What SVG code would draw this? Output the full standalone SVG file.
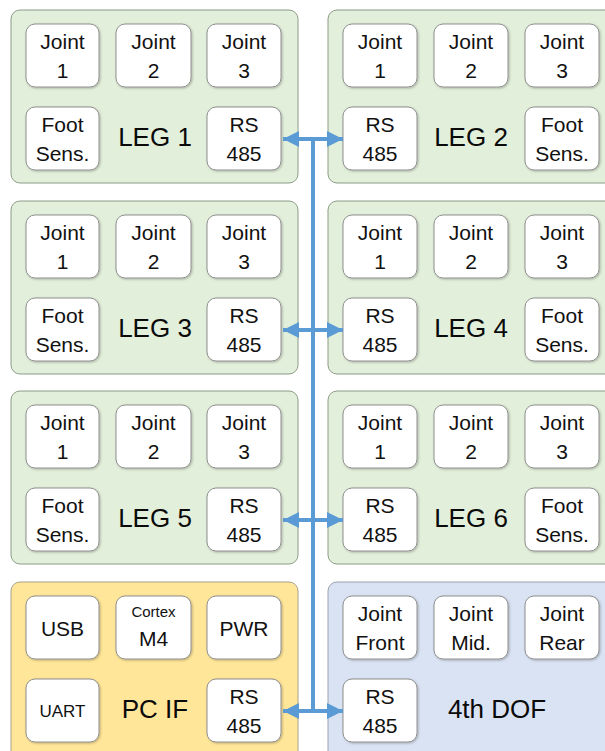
<svg xmlns="http://www.w3.org/2000/svg" width="605" height="751" viewBox="0 0 605 751">
<defs>
<style>
.pg{fill:#E2EFDA;stroke:#8C9C86;stroke-width:1}
.py{fill:#FFE699;stroke:#A8A08A;stroke-width:1}
.pb{fill:#DAE3F3;stroke:#9AA0AE;stroke-width:1}
.bx{fill:#FFFFFF;stroke:#8F8F8F;stroke-width:1;filter:url(#sh)}
.t{font-family:"Liberation Sans",Arial,sans-serif;font-size:21px;fill:#111111;text-anchor:middle}
.s{font-size:15px}
.u{font-size:17px}
.L{font-family:"Liberation Sans",Arial,sans-serif;font-size:26px;fill:#0A0A0A;text-anchor:middle}
.c{stroke:#5B9BD5;stroke-width:4;fill:none}
</style>
<filter id="sh" x="-10%" y="-10%" width="130%" height="130%">
<feDropShadow dx="1" dy="1" stdDeviation="1.2" flood-color="#000" flood-opacity="0.25"/>
</filter>
<marker id="ah" viewBox="0 0 10 10" refX="10" refY="5" markerWidth="4.2" markerHeight="4" orient="auto-start-reverse" markerUnits="strokeWidth">
<path d="M0,0 L10,5 L0,10 Z" fill="#5B9BD5"/>
</marker>
</defs>

<!-- LEG 1 -->
<g id="leg1">
<rect class="pg" x="11" y="10" width="287" height="173" rx="9"/>
<rect class="bx" x="26" y="24" width="73" height="63" rx="9"/><text class="t" x="62.5" y="48.5">Joint</text><text class="t" x="62.5" y="77.5">1</text>
<rect class="bx" x="116" y="24" width="75" height="63" rx="9"/><text class="t" x="153.5" y="48.5">Joint</text><text class="t" x="153.5" y="77.5">2</text>
<rect class="bx" x="207" y="24" width="74" height="63" rx="9"/><text class="t" x="244" y="48.5">Joint</text><text class="t" x="244" y="77.5">3</text>
<rect class="bx" x="26" y="107" width="73" height="63" rx="9"/><text class="t" x="62.5" y="131.5">Foot</text><text class="t" x="62.5" y="160.5">Sens.</text>
<text class="L" x="155" y="146">LEG 1</text>
<rect class="bx" x="207" y="107" width="74" height="63" rx="9"/><text class="t" x="244" y="131.5">RS</text><text class="t" x="244" y="160.5">485</text>
</g>

<!-- LEG 2 -->
<g id="leg2">
<rect class="pg" x="328" y="10" width="290" height="173" rx="9"/>
<rect class="bx" x="343" y="24" width="74" height="63" rx="9"/><text class="t" x="380" y="48.5">Joint</text><text class="t" x="380" y="77.5">1</text>
<rect class="bx" x="434" y="24" width="74" height="63" rx="9"/><text class="t" x="471" y="48.5">Joint</text><text class="t" x="471" y="77.5">2</text>
<rect class="bx" x="525" y="24" width="74" height="63" rx="9"/><text class="t" x="562" y="48.5">Joint</text><text class="t" x="562" y="77.5">3</text>
<rect class="bx" x="343" y="107" width="74" height="63" rx="9"/><text class="t" x="380" y="131.5">RS</text><text class="t" x="380" y="160.5">485</text>
<text class="L" x="471" y="146">LEG 2</text>
<rect class="bx" x="525" y="107" width="74" height="63" rx="9"/><text class="t" x="562" y="131.5">Foot</text><text class="t" x="562" y="160.5">Sens.</text>
</g>

<!-- LEG 3 -->
<g id="leg3" transform="translate(0,191)">
<rect class="pg" x="11" y="10" width="287" height="173" rx="9"/>
<rect class="bx" x="26" y="24" width="73" height="63" rx="9"/><text class="t" x="62.5" y="48.5">Joint</text><text class="t" x="62.5" y="77.5">1</text>
<rect class="bx" x="116" y="24" width="75" height="63" rx="9"/><text class="t" x="153.5" y="48.5">Joint</text><text class="t" x="153.5" y="77.5">2</text>
<rect class="bx" x="207" y="24" width="74" height="63" rx="9"/><text class="t" x="244" y="48.5">Joint</text><text class="t" x="244" y="77.5">3</text>
<rect class="bx" x="26" y="107" width="73" height="63" rx="9"/><text class="t" x="62.5" y="131.5">Foot</text><text class="t" x="62.5" y="160.5">Sens.</text>
<text class="L" x="155" y="146">LEG 3</text>
<rect class="bx" x="207" y="107" width="74" height="63" rx="9"/><text class="t" x="244" y="131.5">RS</text><text class="t" x="244" y="160.5">485</text>
</g>

<!-- LEG 4 -->
<g id="leg4" transform="translate(0,191)">
<rect class="pg" x="328" y="10" width="290" height="173" rx="9"/>
<rect class="bx" x="343" y="24" width="74" height="63" rx="9"/><text class="t" x="380" y="48.5">Joint</text><text class="t" x="380" y="77.5">1</text>
<rect class="bx" x="434" y="24" width="74" height="63" rx="9"/><text class="t" x="471" y="48.5">Joint</text><text class="t" x="471" y="77.5">2</text>
<rect class="bx" x="525" y="24" width="74" height="63" rx="9"/><text class="t" x="562" y="48.5">Joint</text><text class="t" x="562" y="77.5">3</text>
<rect class="bx" x="343" y="107" width="74" height="63" rx="9"/><text class="t" x="380" y="131.5">RS</text><text class="t" x="380" y="160.5">485</text>
<text class="L" x="471" y="146">LEG 4</text>
<rect class="bx" x="525" y="107" width="74" height="63" rx="9"/><text class="t" x="562" y="131.5">Foot</text><text class="t" x="562" y="160.5">Sens.</text>
</g>

<!-- LEG 5 -->
<g id="leg5" transform="translate(0,381)">
<rect class="pg" x="11" y="10" width="287" height="173" rx="9"/>
<rect class="bx" x="26" y="24" width="73" height="63" rx="9"/><text class="t" x="62.5" y="48.5">Joint</text><text class="t" x="62.5" y="77.5">1</text>
<rect class="bx" x="116" y="24" width="75" height="63" rx="9"/><text class="t" x="153.5" y="48.5">Joint</text><text class="t" x="153.5" y="77.5">2</text>
<rect class="bx" x="207" y="24" width="74" height="63" rx="9"/><text class="t" x="244" y="48.5">Joint</text><text class="t" x="244" y="77.5">3</text>
<rect class="bx" x="26" y="107" width="73" height="63" rx="9"/><text class="t" x="62.5" y="131.5">Foot</text><text class="t" x="62.5" y="160.5">Sens.</text>
<text class="L" x="155" y="146">LEG 5</text>
<rect class="bx" x="207" y="107" width="74" height="63" rx="9"/><text class="t" x="244" y="131.5">RS</text><text class="t" x="244" y="160.5">485</text>
</g>

<!-- LEG 6 -->
<g id="leg6" transform="translate(0,381)">
<rect class="pg" x="328" y="10" width="290" height="173" rx="9"/>
<rect class="bx" x="343" y="24" width="74" height="63" rx="9"/><text class="t" x="380" y="48.5">Joint</text><text class="t" x="380" y="77.5">1</text>
<rect class="bx" x="434" y="24" width="74" height="63" rx="9"/><text class="t" x="471" y="48.5">Joint</text><text class="t" x="471" y="77.5">2</text>
<rect class="bx" x="525" y="24" width="74" height="63" rx="9"/><text class="t" x="562" y="48.5">Joint</text><text class="t" x="562" y="77.5">3</text>
<rect class="bx" x="343" y="107" width="74" height="63" rx="9"/><text class="t" x="380" y="131.5">RS</text><text class="t" x="380" y="160.5">485</text>
<text class="L" x="471" y="146">LEG 6</text>
<rect class="bx" x="525" y="107" width="74" height="63" rx="9"/><text class="t" x="562" y="131.5">Foot</text><text class="t" x="562" y="160.5">Sens.</text>
</g>

<!-- PC IF -->
<g id="pcif" transform="translate(0,572)">
<rect class="py" x="11" y="10" width="287" height="190" rx="9"/>
<rect class="bx" x="26" y="24" width="73" height="63" rx="9"/><text class="t" x="62.5" y="63.5">USB</text>
<rect class="bx" x="116" y="24" width="75" height="63" rx="9"/><text class="t s" x="153.5" y="45">Cortex</text><text class="t" x="153.5" y="73.5">M4</text>
<rect class="bx" x="207" y="24" width="74" height="63" rx="9"/><text class="t" x="244" y="63.5">PWR</text>
<rect class="bx" x="26" y="107" width="73" height="63" rx="9"/><text class="t u" x="62.5" y="145">UART</text>
<text class="L" x="155" y="146">PC IF</text>
<rect class="bx" x="207" y="107" width="74" height="63" rx="9"/><text class="t" x="244" y="131.5">RS</text><text class="t" x="244" y="160.5">485</text>
</g>

<!-- 4th DOF -->
<g id="dof4" transform="translate(0,572)">
<rect class="pb" x="328" y="10" width="290" height="190" rx="9"/>
<rect class="bx" x="343" y="24" width="74" height="63" rx="9"/><text class="t" x="380" y="48.5">Joint</text><text class="t" x="380" y="77.5">Front</text>
<rect class="bx" x="434" y="24" width="74" height="63" rx="9"/><text class="t" x="471" y="48.5">Joint</text><text class="t" x="471" y="77.5">Mid.</text>
<rect class="bx" x="525" y="24" width="74" height="63" rx="9"/><text class="t" x="562" y="48.5">Joint</text><text class="t" x="562" y="77.5">Rear</text>
<rect class="bx" x="343" y="107" width="74" height="63" rx="9"/><text class="t" x="380" y="131.5">RS</text><text class="t" x="380" y="160.5">485</text>
<text class="L" x="497" y="146">4th DOF</text>
</g>

<!-- connectors -->
<g id="connectors">
<line class="c" x1="313" y1="139" x2="313" y2="711"/>
<line class="c" x1="283" y1="139" x2="343" y2="139" marker-start="url(#ah)" marker-end="url(#ah)"/>
<line class="c" x1="283" y1="330" x2="343" y2="330" marker-start="url(#ah)" marker-end="url(#ah)"/>
<line class="c" x1="283" y1="520" x2="343" y2="520" marker-start="url(#ah)" marker-end="url(#ah)"/>
<line class="c" x1="283" y1="711" x2="343" y2="711" marker-start="url(#ah)" marker-end="url(#ah)"/>
</g>
</svg>
